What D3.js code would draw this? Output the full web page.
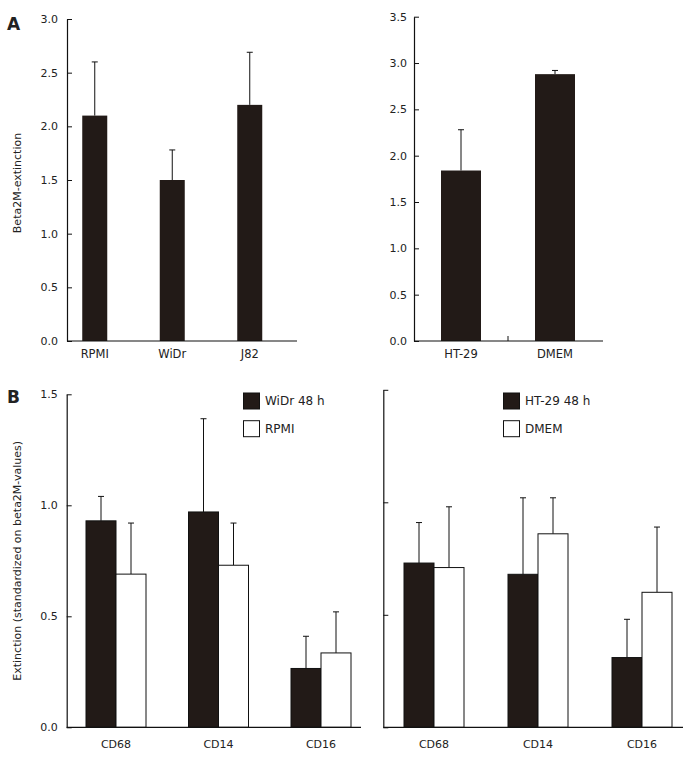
<!DOCTYPE html>
<html>
<head>
<meta charset="utf-8">
<script src="https://cdn.jsdelivr.net/npm/d3@7"></script>
<style>
  html, body { margin: 0; padding: 0; background: #fff; }
  svg text { font-family: "DejaVu Sans", Verdana, sans-serif; fill: #222; }
</style>
</head>
<body>
<svg id="chart" width="692" height="759"></svg>
<script>
// ---------------- DATA ----------------
const aLeftCategories = ["RPMI", "WiDr", "J82"];
const aLeftMeans = [2.10, 1.50, 2.20];
const aLeftErrors = [0.50, 0.28, 0.49];
const aLeftTicks = [0.0, 0.5, 1.0, 1.5, 2.0, 2.5, 3.0];

const aRightCategories = ["HT-29", "DMEM"];
const aRightMeans = [1.84, 2.88];
const aRightErrors = [0.44, 0.04];
const aRightTicks = [0.0, 0.5, 1.0, 1.5, 2.0, 2.5, 3.0, 3.5];

const markers = ["CD68", "CD14", "CD16"];
const bLeftSeriesNames = ["WiDr 48 h", "RPMI"];
const bLeftWiDr = [0.93, 0.97, 0.265];
const bLeftWiDrErr = [0.11, 0.42, 0.145];
const bLeftRPMI = [0.69, 0.73, 0.335];
const bLeftRPMIErr = [0.23, 0.19, 0.185];

const bRightSeriesNames = ["HT-29 48 h", "DMEM"];
const bRightHT29 = [0.73, 0.68, 0.31];
const bRightHT29Err = [0.18, 0.34, 0.17];
const bRightDMEM = [0.71, 0.86, 0.60];
const bRightDMEMErr = [0.27, 0.16, 0.29];
const bTicks = [0.0, 0.5, 1.0, 1.5];

// ---------------- STYLE ----------------
const DARK = "#221a17";
const svg = d3.select("#chart");

function yAxis(g, y, ticks, showLabels, pad) {
  const ax = d3.axisLeft(y).tickValues(ticks).tickSizeInner(-5).tickSizeOuter(0)
    .tickPadding(pad).tickFormat(showLabels ? d3.format(".1f") : () => "");
  g.call(ax);
  g.select(".domain").attr("stroke", "#111").attr("stroke-width", 1.2);
  g.selectAll(".tick line").attr("stroke", "#111");
  g.selectAll(".tick text").attr("font-size", 11).attr("font-family", "DejaVu Sans, Verdana, sans-serif").attr("fill", "#222");
}

function xLine(g, x0, x1, y0) {
  g.append("line").attr("x1", x0).attr("x2", x1).attr("y1", y0).attr("y2", y0)
    .attr("stroke", "#111").attr("stroke-width", 1.2);
}

function errorBar(g, cx, yTop, yMean) {
  g.append("line").attr("x1", cx).attr("x2", cx).attr("y1", yTop).attr("y2", yMean)
    .attr("stroke", "#111").attr("stroke-width", 1);
  g.append("line").attr("x1", cx - 3).attr("x2", cx + 3).attr("y1", yTop).attr("y2", yTop)
    .attr("stroke", "#111").attr("stroke-width", 1);
}

// ---------------- PANEL A LEFT ----------------
{
  const g = svg.append("g");
  const y = d3.scaleLinear().domain([0, 3]).range([341, 19]);
  const x = d3.scalePoint().domain(aLeftCategories).range([56, 288.5]).padding(0.5);
  const bw = 25;
  aLeftCategories.forEach((c, i) => {
    errorBar(g, x(c), y(aLeftMeans[i] + aLeftErrors[i]), y(aLeftMeans[i]));
    g.append("rect").attr("x", x(c) - bw / 2).attr("y", y(aLeftMeans[i]))
      .attr("width", bw).attr("height", y(0) - y(aLeftMeans[i])).attr("fill", DARK);
    g.append("text").attr("x", x(c)).attr("y", 358).attr("text-anchor", "middle")
      .attr("font-size", 11.5).text(c);
  });
  xLine(g, 67, 297, y(0));
  yAxis(g.append("g").attr("transform", "translate(67,0)"), y, aLeftTicks, true, 9);
  g.append("text").attr("transform", `translate(21,${(y(0) + y(3)) / 2 + 3}) rotate(-90)`)
    .attr("text-anchor", "middle").attr("font-size", 11).text("Beta2M-extinction");
  g.append("text").attr("x", 7).attr("y", 30).attr("font-size", 17).attr("font-weight", "bold")
    .attr("font-family", "Liberation Sans, Arial, sans-serif").attr("fill", "#111").text("A");
}

// ---------------- PANEL A RIGHT ----------------
{
  const g = svg.append("g");
  const y = d3.scaleLinear().domain([0, 3.5]).range([341, 16.7]);
  const x = d3.scalePoint().domain(aRightCategories).range([414, 602]).padding(0.5);
  const bw = 40;
  aRightCategories.forEach((c, i) => {
    errorBar(g, x(c), y(aRightMeans[i] + aRightErrors[i]), y(aRightMeans[i]));
    g.append("rect").attr("x", x(c) - bw / 2).attr("y", y(aRightMeans[i]))
      .attr("width", bw).attr("height", y(0) - y(aRightMeans[i])).attr("fill", DARK);
    g.append("text").attr("x", x(c)).attr("y", 358).attr("text-anchor", "middle")
      .attr("font-size", 11.5).text(c);
  });
  xLine(g, 414, 603, y(0));
  const mid = (x(aRightCategories[0]) + x(aRightCategories[1])) / 2;
  g.append("line").attr("x1", mid).attr("x2", mid).attr("y1", y(0)).attr("y2", y(0) - 5)
    .attr("stroke", "#111");
  yAxis(g.append("g").attr("transform", "translate(414,0)"), y, aRightTicks, true, 7);
}

// ---------------- PANEL B ----------------
function groupedPanel(opts) {
  const g = svg.append("g");
  const y = d3.scaleLinear().domain([0, 1.5]).range([727.3, opts.yTop]);
  const x0 = d3.scalePoint().domain(markers).range(opts.xRange).padding(0.5);
  const bw = 30;
  const series = [
    { vals: opts.s1, errs: opts.s1e, fill: DARK, off: -bw },
    { vals: opts.s2, errs: opts.s2e, fill: "#fff", off: 0 }
  ];
  series.forEach(s => {
    markers.forEach((m, i) => {
      const bx = x0(m) + s.off;
      errorBar(g, bx + bw / 2, y(s.vals[i] + s.errs[i]), y(s.vals[i]));
      g.append("rect").attr("x", bx).attr("y", y(s.vals[i]))
        .attr("width", bw).attr("height", y(0) - y(s.vals[i]))
        .attr("fill", s.fill).attr("stroke", "#111").attr("stroke-width", 1);
    });
  });
  markers.forEach(m => {
    g.append("text").attr("x", x0(m)).attr("y", 748).attr("text-anchor", "middle")
      .attr("font-size", 11).text(m);
  });
  xLine(g, opts.axisX, opts.axisEnd, y(0));
  yAxis(g.append("g").attr("transform", `translate(${opts.axisX},0)`), y, bTicks, opts.labels, 9);
  // legend
  const lg = g.append("g").attr("transform", `translate(${opts.legendX},392.5)`);
  opts.names.forEach((n, i) => {
    lg.append("rect").attr("x", 0.5).attr("y", i * 27.7 + 0.5).attr("width", 16).attr("height", 16)
      .attr("fill", i === 0 ? DARK : "#fff").attr("stroke", "#111");
    lg.append("text").attr("x", 22).attr("y", i * 27.7 + 12.5).attr("font-size", 12).text(n);
  });
  return y;
}

const yB = groupedPanel({
  yTop: 394.3, xRange: [64.75, 372.25], axisX: 66.7, axisEnd: 361,
  s1: bLeftWiDr, s1e: bLeftWiDrErr, s2: bLeftRPMI, s2e: bLeftRPMIErr,
  names: bLeftSeriesNames, legendX: 243, labels: true
});
svg.append("text").attr("transform", `translate(21,${(yB(0) + yB(1.5)) / 2}) rotate(-90)`)
  .attr("text-anchor", "middle").attr("font-size", 11)
  .text("Extinction (standardized on beta2M-values)");
svg.append("text").attr("x", 7).attr("y", 403).attr("font-size", 17).attr("font-weight", "bold")
  .attr("font-family", "Liberation Sans, Arial, sans-serif").attr("fill", "#111").text("B");

groupedPanel({
  yTop: 389.8, xRange: [382, 694], axisX: 383.3, axisEnd: 683,
  s1: bRightHT29, s1e: bRightHT29Err, s2: bRightDMEM, s2e: bRightDMEMErr,
  names: bRightSeriesNames, legendX: 503, labels: false
});
</script>
</body>
</html>
